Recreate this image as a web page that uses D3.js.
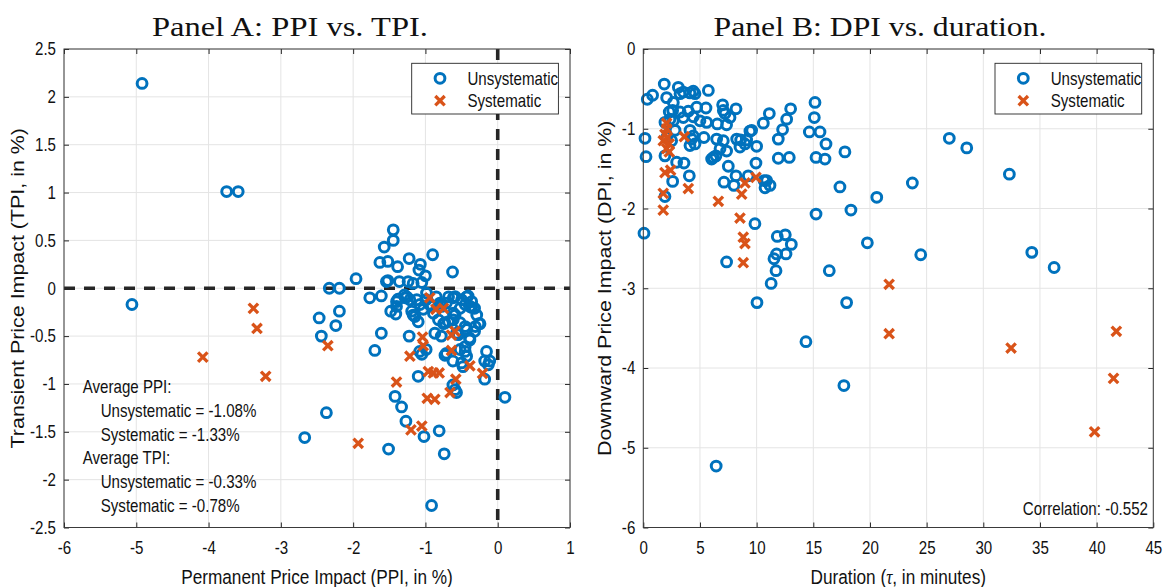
<!DOCTYPE html>
<html>
<head>
<meta charset="utf-8">
<script src="https://cdn.jsdelivr.net/npm/d3@7/dist/d3.min.js"></script>
<style>
  html, body { margin: 0; padding: 0; background: #fff; }
  svg { display: block; }
  .lbl { font-family: "Liberation Sans", Arial, Helvetica, sans-serif; fill: #111; }
  .ttl { font-family: "Liberation Serif", "Times New Roman", serif; fill: #111; }
</style>
</head>
<body>
<svg id="chart" width="1171" height="587"></svg>
<script>
// ---- Panel A: permanent vs transient price impact (in %) ----
const panelA_unsystematic = [
  [-4.92,2.14],[-3.75,1.01],[-3.59,1.01],[-5.06,-0.17],[-2.33,0],[-2.19,0],[-1.96,0.10],
  [-1.445,0.61],[-1.445,0.50],[-1.57,0.43],[-1.63,0.27],[-1.52,0.28],[-1.385,0.225],[-1.225,0.31],
  [-0.90,0.35],[-1.07,0.25],[-1.09,0.19],[-1.00,0.13],[-0.625,0.17],[-1.52,0.08],[-1.36,0.07],
  [-1.24,0.07],[-1.17,0.05],[-1.05,0.06],[-1.77,-0.10],[-1.61,-0.08],[-1.38,-0.115],[-1.26,-0.09],
  [-2.47,-0.31],[-2.19,-0.24],[-2.24,-0.39],[-2.44,-0.50],[-1.48,-0.24],[-1.41,-0.27],[-1.61,-0.47],
  [-1.225,-0.50],[-1.70,-0.65],[-1.17,-0.28],[-1.10,-0.35],[-1.03,-0.22],[-0.99,-0.12],[-0.87,-0.47],
  [-0.78,-0.50],[-1.08,-0.66],[-0.99,-0.64],[-1.10,-0.92],[-0.71,-0.68],[-0.62,-0.76],[-0.50,-0.78],
  [-0.43,-0.71],[-0.39,-0.52],[-0.32,-0.45],[-0.26,-0.37],[-0.155,-0.66],[-0.18,-0.76],[-0.11,-0.76],
  [-0.18,-0.95],[0.10,-1.14],[-0.57,-1.09],[-1.42,-1.13],[-1.33,-1.24],[-1.27,-1.39],[-1.02,-1.55],
  [-0.81,-1.49],[-0.74,-1.73],[-1.51,-1.68],[-2.37,-1.30],[-2.67,-1.56],[-0.915,-2.27],[-0.615,-0.10],
  [-0.68,-0.09],[-0.50,-0.12],[-0.43,-0.09],[-0.41,-0.08],[-0.45,-0.17],[-0.36,-0.20],[-0.32,-0.21],
  [-0.52,-0.21],[-0.615,-0.26],[-0.71,-0.155],[-0.80,-0.155],[-0.89,-0.26],[-0.82,-0.33],[-0.73,-0.36],
  [-0.615,-0.33],[-0.52,-0.36],[-0.45,-0.40],[-0.545,-0.485],[-0.45,-0.61],[-0.52,-0.64],[-0.985,-0.05],
  [-0.915,-0.19],[-0.85,-0.09],[-1.19,-0.24],[-1.145,-0.295],[-1.40,-0.19],[-1.28,-0.10],[-1.075,-0.17],
  [-1.54,0.07],[-1.29,-0.07],[-1.40,-0.14],[-1.215,-0.12],[-1.12,-0.12],[-0.94,-0.17],[-0.59,-0.087],
  [-0.385,-0.19],[-0.36,-0.14],[-0.776,-0.19],[-0.75,-0.37],[-0.68,-0.35],[-0.59,-0.28],[-0.29,-0.28],
  [-0.245,-0.37],[-0.31,-0.40],[-0.43,-0.43],[-0.385,-0.54],[-0.57,-0.47],[-1.05,-0.69],[-0.45,-0.66],
  [-0.73,-0.70],[-0.48,-0.82],[-0.13,-0.80],[-0.62,-1.01],[-0.59,-1.06]
];
const panelA_systematic = [
  [-3.38,-0.21],[-3.33,-0.42],[-4.08,-0.72],[-3.21,-0.92],[-0.94,-0.10],[-0.855,-0.22],[-0.75,-0.21],
  [-1.04,-0.51],[-1.03,-0.60],[-0.64,-0.49],[-0.59,-0.45],[-1.215,-0.71],[-0.64,-0.65],[-0.385,-0.81],
  [-0.21,-0.89],[-0.96,-0.87],[-0.89,-0.885],[-0.81,-0.885],[-1.40,-0.98],[-0.58,-0.95],[-0.66,-1.09],
  [-0.975,-1.15],[-0.87,-1.16],[-1.20,-1.48],[-1.05,-1.44],[-1.93,-1.62],[-2.35,-0.60]
];
const panelA_xTicks = [-6, -5, -4, -3, -2, -1, 0, 1];
const panelA_yTicks = [-2.5, -2, -1.5, -1, -0.5, 0, 0.5, 1, 1.5, 2, 2.5];
const panelA_notes = [
  ["Average PPI:", 0],
  ["Unsystematic = -1.08%", 1],
  ["Systematic = -1.33%", 1],
  ["Average TPI:", 0],
  ["Unsystematic = -0.33%", 1],
  ["Systematic = -0.78%", 1]
];

// ---- Panel B: duration (minutes) vs downward price impact (in %) ----
const panelB_unsystematic = [
  [1.85,-0.44],[0.35,-0.63],[0.82,-0.58],[3.09,-0.48],[2.06,-0.61],[3.24,-0.56],[3.53,-0.54],[4.12,-0.55],
  [4.41,-0.53],[4.56,-0.56],[5.74,-0.52],[2.29,-0.79],[2.59,-0.77],[3.24,-0.79],[3.97,-0.78],[4.71,-0.73],
  [5.53,-0.74],[1.91,-0.92],[2.65,-0.90],[3.53,-0.86],[4.41,-0.85],[5.0,-0.90],[5.59,-0.92],[7.0,-0.70],
  [7.06,-0.77],[7.21,-0.81],[7.65,-0.86],[8.18,-0.75],[6.53,-0.94],[7.35,-0.95],[0.15,-1.12],[0.24,-1.35],
  [2.06,-1.11],[1.91,-1.34],[2.5,-1.15],[4.12,-1.02],[4.26,-1.13],[4.56,-1.19],[5.35,-1.11],[6.18,-1.36],
  [6.41,-1.34],[6.47,-1.13],[7.06,-1.15],[7.35,-1.28],[8.24,-1.13],[8.59,-1.14],[8.97,-1.19],[9.12,-1.14],
  [9.41,-1.03],[10.0,-1.22],[2.94,-1.42],[3.59,-1.43],[4.06,-1.59],[2.59,-1.66],[1.91,-1.85],[7.5,-1.47],
  [7.12,-1.67],[8.18,-1.59],[8.0,-1.71],[9.26,-1.59],[9.94,-1.43],[10.65,-1.65],[10.74,-1.74],[10.59,-0.93],
  [11.12,-0.81],[11.91,-1.13],[12.29,-1.01],[12.65,-0.88],[13.0,-0.75],[11.91,-1.37],[12.88,-1.36],
  [14.65,-1.04],[15.15,-0.67],[15.09,-0.86],[15.59,-1.04],[16.12,-1.19],[15.24,-1.36],[16.03,-1.38],
  [17.79,-1.29],[17.35,-1.73],[18.32,-2.02],[20.6,-1.86],[19.77,-2.43],[16.41,-2.78],[15.24,-2.07],
  [9.85,-2.19],[0.06,-2.31],[7.35,-2.67],[11.82,-2.35],[12.53,-2.33],[13.06,-2.45],[11.76,-2.57],
  [12.59,-2.57],[11.53,-2.63],[11.71,-2.78],[11.28,-2.94],[27.0,-1.12],[28.54,-1.24],[32.3,-1.57],
  [23.74,-1.68],[24.48,-2.58],[34.28,-2.55],[36.25,-2.74],[10.03,-3.18],[17.94,-3.18],[14.35,-3.67],
  [17.7,-4.22],[6.43,-5.23],[2.65,-0.67],[2.35,-0.88],[2.8,-1.02],[4.41,-1.09],[6.77,-1.25],[6.03,-1.38],
  [8.53,-1.23],[9.56,-1.02],[4.12,-1.21],[10.88,-1.65],[11.18,-1.71]
];
const panelB_systematic = [
  [2.06,-0.93],[2.06,-1.0],[1.91,-1.07],[2.12,-1.11],[1.76,-1.15],[2.29,-1.19],[2.06,-1.25],[2.29,-1.29],
  [3.62,-1.10],[1.91,-1.55],[2.41,-1.52],[1.76,-1.81],[1.76,-2.02],[3.97,-1.75],[6.62,-1.91],[8.68,-1.82],
  [8.97,-1.68],[9.94,-1.61],[8.53,-2.12],[8.82,-2.36],[8.97,-2.44],[8.82,-2.68],[21.69,-2.95],[21.69,-3.57],
  [32.45,-3.75],[41.74,-3.54],[41.49,-4.13],[39.82,-4.80]
];
const panelB_xTicks = [0, 5, 10, 15, 20, 25, 30, 35, 40, 45];
const panelB_yTicks = [-6, -5, -4, -3, -2, -1, 0];
const panelB_correlation = "Correlation: -0.552";

const seriesNames = ["Unsystematic", "Systematic"];
const colors = { unsys: "#0072BD", sys: "#D95319" };

const svg = d3.select("#chart");
const FONT = 18;         // tick labels, legend, notes
const LABEL_FONT = 20.5; // horizontal axis titles
const CONDENSE = 0.84;   // horizontal squeeze of sans text

function drawCircle(g, x, y) {
  g.append("circle").attr("cx", x).attr("cy", y).attr("r", 4.9)
    .attr("fill", "none").attr("stroke", colors.unsys).attr("stroke-width", 3);
}
function drawCross(g, x, y) {
  const r = 4.7;
  g.append("path")
    .attr("d", `M${x - r},${y - r}L${x + r},${y + r}M${x - r},${y + r}L${x + r},${y - r}`)
    .attr("stroke", colors.sys).attr("stroke-width", 3.3).attr("fill", "none");
}

// squeeze a horizontal text element around its anchor point
function condense(sel) {
  sel.each(function () {
    const x = +(this.getAttribute("x") || 0);
    const y = +(this.getAttribute("y") || 0);
    this.setAttribute("transform", `translate(${x},${y}) scale(${CONDENSE},1) translate(${-x},${-y})`);
  });
}

function drawPanel(cfg) {
  const g = svg.append("g");
  const x = d3.scaleLinear().domain(cfg.xDomain).range([cfg.left, cfg.right]);
  const y = d3.scaleLinear().domain(cfg.yDomain).range([cfg.bottom, cfg.top]);

  // grid
  const grid = g.append("g").attr("stroke", "#e4e4e4").attr("stroke-width", 1);
  cfg.xTicks.forEach(t => grid.append("line").attr("x1", x(t)).attr("x2", x(t)).attr("y1", cfg.top).attr("y2", cfg.bottom));
  cfg.yTicks.forEach(t => grid.append("line").attr("x1", cfg.left).attr("x2", cfg.right).attr("y1", y(t)).attr("y2", y(t)));

  // axes with inward ticks
  const tickLen = 5;
  const axB = g.append("g").attr("transform", `translate(0,${cfg.bottom})`)
    .call(d3.axisBottom(x).tickValues(cfg.xTicks).tickSizeInner(-tickLen).tickSizeOuter(0).tickPadding(14).tickFormat(d => String(d)));
  const axT = g.append("g").attr("transform", `translate(0,${cfg.top})`)
    .call(d3.axisTop(x).tickValues(cfg.xTicks).tickSizeInner(-tickLen).tickSizeOuter(0).tickFormat(""));
  const axL = g.append("g").attr("transform", `translate(${cfg.left},0)`)
    .call(d3.axisLeft(y).tickValues(cfg.yTicks).tickSizeInner(-tickLen).tickSizeOuter(0).tickPadding(8).tickFormat(d => String(d)));
  const axR = g.append("g").attr("transform", `translate(${cfg.right},0)`)
    .call(d3.axisRight(y).tickValues(cfg.yTicks).tickSizeInner(-tickLen).tickSizeOuter(0).tickFormat(""));
  [axB, axT, axL, axR].forEach(a => {
    a.select(".domain").remove();
    a.selectAll("line").attr("stroke", "#262626").attr("stroke-width", 1);
    a.selectAll("text").attr("class", "lbl").attr("font-size", FONT).attr("fill", "#111");
  });
  axB.selectAll("text").attr("dy", "0.71em");
  condense(axB.selectAll("text"));
  condense(axL.selectAll("text"));

  // reference lines
  if (cfg.refLines) {
    const ref = g.append("g").attr("stroke", "#262626").attr("stroke-width", 3.6).attr("stroke-dasharray", "11,9");
    ref.append("line").attr("x1", x(cfg.xDomain[0])).attr("x2", x(cfg.xDomain[1])).attr("y1", y(0)).attr("y2", y(0));
    ref.append("line").attr("x1", x(0)).attr("x2", x(0)).attr("y1", y(cfg.yDomain[1])).attr("y2", y(cfg.yDomain[0]));
  }

  // marks
  const marks = g.append("g");
  cfg.unsys.forEach(d => drawCircle(marks, x(d[0]), y(d[1])));
  cfg.sys.forEach(d => drawCross(marks, x(d[0]), y(d[1])));

  // frame
  g.append("rect").attr("x", cfg.left).attr("y", cfg.top)
    .attr("width", cfg.right - cfg.left).attr("height", cfg.bottom - cfg.top)
    .attr("fill", "none").attr("stroke", "#3a3a3a").attr("stroke-width", 1);

  // legend
  const lw = 146.7, lh = 50.7;
  const lx = cfg.right - 11.6 - lw, ly = cfg.top + 14.3;
  const lg = g.append("g");
  lg.append("rect").attr("x", lx).attr("y", ly).attr("width", lw).attr("height", lh)
    .attr("fill", "#fff").attr("stroke", "#262626").attr("stroke-width", 0.9);
  drawCircle(lg, lx + 28.3, ly + 15);
  drawCross(lg, lx + 28.3, ly + 37.4);
  seriesNames.forEach((s, i) => {
    lg.append("text").attr("class", "lbl").attr("font-size", FONT)
      .attr("x", lx + 55.7).attr("y", ly + 15 + i * 22.4).attr("dy", "0.35em").text(s)
      .call(condense);
  });

  // title
  svg.append("text").attr("class", "ttl").attr("font-size", 28)
    .attr("x", cfg.titleX).attr("y", 36).attr("text-anchor", "middle")
    .attr("textLength", cfg.titleLen).attr("lengthAdjust", "spacingAndGlyphs")
    .text(cfg.title);

  // axis titles
  const xl = svg.append("text").attr("class", "lbl").attr("font-size", LABEL_FONT)
    .attr("x", (cfg.left + cfg.right) / 2).attr("y", 584).attr("text-anchor", "middle");
  cfg.xLabel(xl);
  condense(xl);
  svg.append("text").attr("class", "lbl").attr("font-size", FONT)
    .attr("transform", `translate(${cfg.yLabelX},${(cfg.top + cfg.bottom) / 2}) rotate(-90) scale(${1 / CONDENSE},1)`)
    .attr("text-anchor", "middle").text(cfg.yLabel);

  return { g, x, y };
}

drawPanel({
  left: 64, right: 570, top: 49, bottom: 527.5,
  xDomain: [-6, 1], yDomain: [-2.5, 2.5],
  xTicks: panelA_xTicks, yTicks: panelA_yTicks,
  unsys: panelA_unsystematic, sys: panelA_systematic,
  refLines: true,
  title: "Panel A: PPI vs. TPI.", titleX: 290, titleLen: 276,
  xLabel: t => t.text("Permanent Price Impact (PPI, in %)"),
  yLabel: "Transient Price Impact (TPI, in %)", yLabelX: 24
});

drawPanel({
  left: 643.3, right: 1153.3, top: 49, bottom: 527.5,
  xDomain: [0, 45], yDomain: [-6, 0],
  xTicks: panelB_xTicks, yTicks: panelB_yTicks,
  unsys: panelB_unsystematic, sys: panelB_systematic,
  refLines: false,
  title: "Panel B: DPI vs. duration.", titleX: 880, titleLen: 333,
  xLabel: t => {
    t.append("tspan").text("Duration (");
    t.append("tspan").attr("font-family", "'Liberation Serif', serif").attr("font-style", "italic").text("τ");
    t.append("tspan").text(", in minutes)");
  },
  yLabel: "Downward Price Impact (DPI, in %)", yLabelX: 611
});

// summary statistics, Panel A
panelA_notes.forEach((n, i) => {
  svg.append("text").attr("class", "lbl").attr("font-size", FONT)
    .attr("x", 82.7 + n[1] * 18).attr("y", 393.3 + i * 23.7).text(n[0])
    .call(condense);
});

// correlation, Panel B
svg.append("text").attr("class", "lbl").attr("font-size", FONT)
  .attr("x", 1148).attr("y", 515).attr("text-anchor", "end").text(panelB_correlation)
  .call(condense);
</script>
</body>
</html>
